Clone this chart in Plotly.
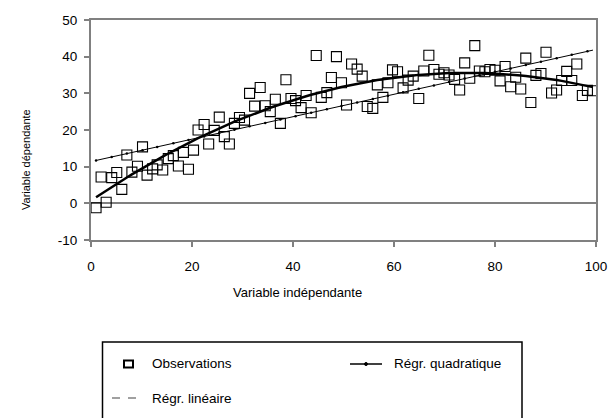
import numpy as np
import plotly.graph_objects as go

# Observations (independent variable, dependent variable)
obs_x = [1.0, 2.0, 3.0, 4.1, 5.1, 6.1, 7.1, 8.1, 9.2, 10.2,
         11.1, 12.2, 13.1, 14.2, 15.3, 16.3, 17.3, 18.3, 19.3, 20.3,
         21.2, 22.4, 23.3, 24.4, 25.4, 26.4, 27.4, 28.4, 29.4, 30.4,
         31.4, 32.4, 33.5, 34.5, 35.5, 36.5, 37.5, 38.6, 39.6, 40.5,
         41.6, 42.6, 43.6, 44.6, 45.6, 46.7, 47.6, 48.6, 49.6, 50.6,
         51.6, 52.7, 53.7, 54.7, 55.8, 56.7, 57.8, 58.8, 59.7, 60.7,
         61.8, 62.8, 63.8, 64.9, 65.9, 66.9, 67.9, 68.9, 69.9, 70.9,
         72.0, 73.0, 74.0, 75.0, 76.0, 76.9, 78.0, 79.0, 80.0, 81.0,
         82.0, 83.1, 84.1, 85.1, 86.1, 87.1, 88.1, 89.1, 90.1, 91.2,
         92.2, 93.2, 94.2, 95.2, 96.2, 97.3, 98.3, 99.4]
obs_y = [-1.2, 7.2, 0.3, 7.0, 8.4, 3.8, 13.2, 8.5, 10.1, 15.4,
         7.7, 9.4, 10.5, 9.1, 12.2, 13.0, 10.2, 13.9, 9.3, 14.5,
         20.0, 21.5, 16.2, 19.9, 23.5, 18.2, 16.2, 21.8, 23.4, 22.7,
         30.0, 26.5, 31.6, 26.6, 25.0, 28.4, 21.8, 33.7, 28.6, 28.0,
         26.1, 29.4, 24.7, 40.3, 28.9, 30.2, 34.3, 40.0, 32.9, 26.8,
         38.0, 36.6, 34.7, 26.4, 25.9, 32.3, 28.9, 32.9, 36.4, 35.9,
         31.5, 33.6, 34.7, 28.6, 36.1, 40.4, 36.5, 35.2, 35.6, 35.0,
         33.8, 30.9, 38.3, 34.1, 43.0, 36.1, 35.9, 36.5, 36.3, 33.4,
         37.3, 31.8, 34.4, 31.2, 39.6, 27.5, 34.9, 35.4, 41.2, 30.1,
         30.9, 33.5, 36.0, 33.5, 38.0, 29.4, 30.8, 30.7]

x_tick_vals = [0, 20, 40, 60, 80, 100]
y_tick_vals = [-10, 0, 10, 20, 30, 40, 50]
y_tick_text = ["-10", "0", "10", "20", "30", "40", "50"]

series_names = ["Observations", "Régr. linéaire", "Régr. quadratique"]
x_title = "Variable indépendante"
y_title = "Variable dépendante"

# Least-squares fits on the observations
xs = np.array(obs_x)
ys = np.array(obs_y)
lin_coef = np.polyfit(xs, ys, 1)
quad_coef = np.polyfit(xs, ys, 2)
lin_fit = np.polyval(lin_coef, xs)
quad_fit = np.polyval(quad_coef, xs)

FONT = "Liberation Sans, Arial, sans-serif"
GREY = "#808080"
W, H = 614, 418
L, R, T, B = 91, 18, 20, 178


def px(x):
    return (x - L) / (W - L - R)


def py(y):
    return (H - B - y) / (H - T - B)


fig = go.Figure()

fig.add_trace(go.Scatter(
    x=obs_x, y=lin_fit, mode="lines", name=series_names[1],
    line=dict(color="black", width=1), showlegend=False))
fig.add_trace(go.Scatter(
    x=obs_x[::3], y=lin_fit[::3], mode="markers", showlegend=False,
    marker=dict(color="black", size=2.5), hoverinfo="skip"))
fig.add_trace(go.Scatter(
    x=obs_x, y=quad_fit, mode="lines", name=series_names[2],
    line=dict(color="black", width=2.5), showlegend=False))
fig.add_trace(go.Scatter(
    x=obs_x, y=obs_y, mode="markers", name=series_names[0],
    marker=dict(symbol="square-open", size=10, color="black",
                line=dict(width=1.1, color="black")),
    showlegend=False))

axis_common = dict(
    showgrid=False, showline=True, linecolor=GREY, linewidth=2,
    mirror=True, ticks="outside", tickcolor=GREY, tickwidth=1.5,
    ticklen=5, tickfont=dict(family=FONT, size=13.5, color="black"),
)

fig.update_xaxes(range=[0, 100], tickvals=x_tick_vals, zeroline=False,
                 ticklabelstandoff=8, **axis_common)
fig.update_yaxes(range=[-10, 50], tickvals=y_tick_vals, ticktext=y_tick_text,
                 zeroline=True, zerolinecolor=GREY, zerolinewidth=2,
                 ticklabelstandoff=4, **axis_common)

annotations = [
    dict(x=px(297), y=py(292), text=x_title, showarrow=False,
         xref="paper", yref="paper", xanchor="center", yanchor="middle",
         font=dict(family=FONT, size=13, color="black")),
    dict(x=px(26), y=py(160), text=y_title, showarrow=False, textangle=-90,
         xref="paper", yref="paper", xanchor="center", yanchor="middle",
         font=dict(family=FONT, size=11, color="black")),
    dict(x=px(150), y=py(363), text=series_names[0], showarrow=False,
         xref="paper", yref="paper", xanchor="left", yanchor="middle",
         font=dict(family=FONT, size=13.5, color="black")),
    dict(x=px(392), y=py(364), text=series_names[2], showarrow=False,
         xref="paper", yref="paper", xanchor="left", yanchor="middle",
         font=dict(family=FONT, size=13.5, color="black")),
    dict(x=px(150), y=py(398), text=series_names[1], showarrow=False,
         xref="paper", yref="paper", xanchor="left", yanchor="middle",
         font=dict(family=FONT, size=13.5, color="black")),
]

shapes = [
    # legend frame
    dict(type="rect", xref="paper", yref="paper",
         x0=px(102.5), x1=px(522), y0=py(430), y1=py(342),
         line=dict(color="black", width=1.5), fillcolor="rgba(0,0,0,0)"),
    # observation symbol
    dict(type="rect", xref="paper", yref="paper",
         x0=px(124), x1=px(133), y0=py(367.5), y1=py(360.5),
         line=dict(color="black", width=2), fillcolor="white"),
    # quadratic sample
    dict(type="line", xref="paper", yref="paper",
         x0=px(350), x1=px(382), y0=py(364), y1=py(364),
         line=dict(color="black", width=1.5)),
    dict(type="circle", xref="paper", yref="paper",
         x0=px(364.5), x1=px(367.5), y0=py(365.5), y1=py(362.5),
         line=dict(color="black", width=1), fillcolor="black"),
    # linear sample (dashed)
    dict(type="line", xref="paper", yref="paper",
         x0=px(112), x1=px(120), y0=py(398), y1=py(398),
         line=dict(color=GREY, width=1.5)),
    dict(type="line", xref="paper", yref="paper",
         x0=px(128), x1=px(136), y0=py(398), y1=py(398),
         line=dict(color=GREY, width=1.5)),
]

fig.update_layout(
    width=W, height=H,
    margin=dict(l=L, r=R, t=T, b=B, autoexpand=False),
    paper_bgcolor="white", plot_bgcolor="white",
    showlegend=False,
    annotations=annotations, shapes=shapes,
)

fig.write_html("out.html")
